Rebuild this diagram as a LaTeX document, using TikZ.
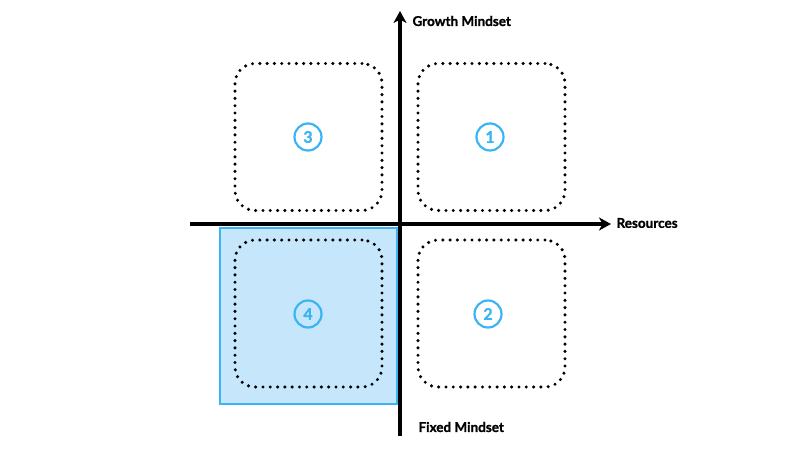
\documentclass[tikz,border=0pt]{standalone}
\usepackage{fontspec}
\setmainfont{Lato}[BoldFeatures={FakeBold=1.2}]
\usetikzlibrary{arrows.meta, positioning}
\definecolor{skyblue}{HTML}{3AB4F2}
\definecolor{paleblue}{HTML}{C6E7FB}

\begin{document}
\begin{tikzpicture}[x=1pt, y=-1pt,
    zone/.style={minimum size=147pt, rounded corners=20pt, draw, line width=3.4pt,
      line cap=round, dash pattern=on 0pt off 7.3pt},
    num/.style={circle, draw=skyblue, text=skyblue, line width=2.2pt, minimum size=27pt,
      inner sep=0pt, font=\fontsize{16}{16}\selectfont\bfseries},
    axis/.style={line width=3.4pt, -{Stealth[length=12pt, width=13pt, inset=3.5pt]}},
    lbl/.style={anchor=west, font=\fontsize{13.5}{13.5}\selectfont\bfseries}]
  \useasboundingbox (0,0) rectangle (800,450);
  % highlighted quadrant
  \node (hl) [fill=paleblue, draw=skyblue, line width=2.4pt, minimum width=177pt,
    minimum height=176pt, inner sep=0pt] at (308.5,316) {};
  % quadrants
  \node (q3) [zone] at (308.5,137) {};
  \node (q1) [zone] at (491.5,137) {};
  \node (q4) [zone] at (308.5,313.5) {};
  \node (q2) [zone] at (491.5,313.5) {};
  \node (n3) [num] at (308,137) {3};
  \node (n1) [num] at (490,137) {1};
  \node (n4) [num] at (308,314) {4};
  \node (n2) [num] at (488,314) {2};
  % axes
  \coordinate (xs) at (190,224);
  \coordinate (xe) at (611,224);
  \coordinate (ys) at (400,436);
  \coordinate (ye) at (400,11);
  \draw[axis] (xs) -- (xe);
  \draw[axis] (ys) -- (ye);
  \node (growth) [lbl] at (409,21) {Growth Mindset};
  \node (res) [lbl] at (613,223) {Resources};
  \node (fixed) [lbl] at (415,427) {Fixed Mindset};
\end{tikzpicture}
\end{document}
